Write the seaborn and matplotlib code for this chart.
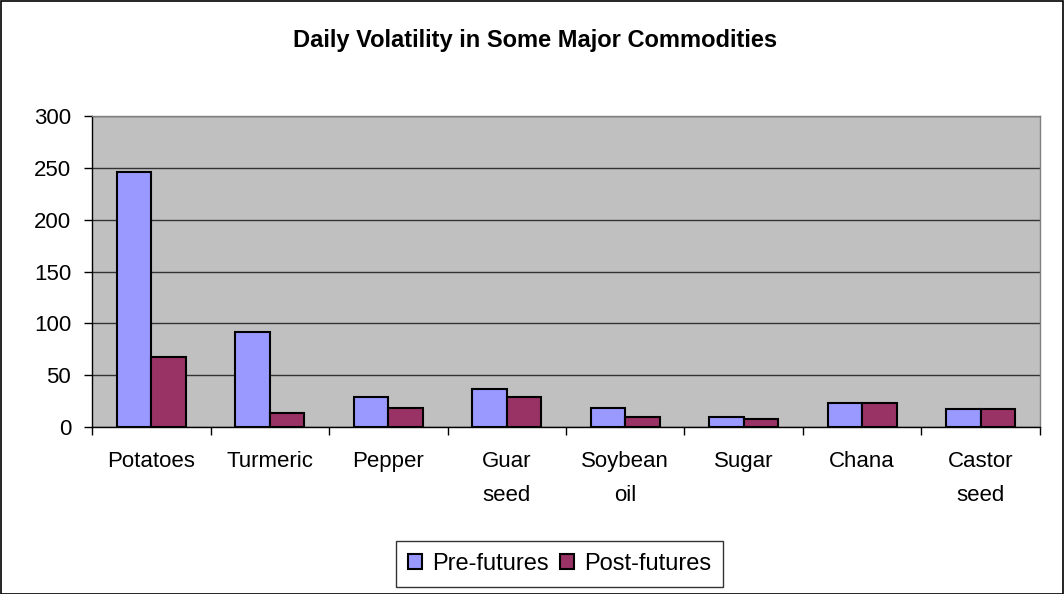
import pandas as pd
import numpy as np
import matplotlib.pyplot as plt
import seaborn as sns
from matplotlib.patches import Rectangle

# Datos
commodities = ["Potatoes", "Turmeric", "Pepper", "Guar\nseed", "Soybean\noil",
               "Sugar", "Chana", "Castor\nseed"]
pre_futures = [246, 92, 29, 37, 18, 10, 23, 17]
post_futures = [68, 14, 18, 29, 10, 8, 23, 17]
series = ["Pre-futures", "Post-futures"]
colores = ["#9999FF", "#993366"]

df = pd.DataFrame({
    "Commodity": commodities * 2,
    "Volatility": pre_futures + post_futures,
    "Period": [series[0]] * len(commodities) + [series[1]] * len(commodities),
})

sns.set_style("white")
plt.rcParams['font.family'] = ['Liberation Sans', 'DejaVu Sans']
plt.rcParams['text.color'] = 'black'
plt.rcParams['xtick.color'] = 'black'
plt.rcParams['ytick.color'] = 'black'

fig = plt.figure(figsize=(10.64, 5.94), dpi=100)
ax = fig.add_axes([0.0865, 0.2811, 0.8909, 0.5236])

sns.barplot(data=df, x="Commodity", y="Volatility", hue="Period",
            palette=colores, width=0.58, edgecolor="black", linewidth=1.5,
            saturation=1, ax=ax, legend=False)

ax.set_facecolor("#C0C0C0")
ax.set_ylim(0, 300)
ax.set_xlim(-0.5, len(commodities) - 0.5)
ax.set_yticks(np.arange(0, 301, 50))
ax.yaxis.grid(True, color="#333333", linewidth=1)
ax.set_axisbelow(True)
ax.set_xlabel("")
ax.set_ylabel("")

for lado in ["top", "right"]:
    ax.spines[lado].set_color("#808080")
    ax.spines[lado].set_linewidth(1)
for lado in ["left", "bottom"]:
    ax.spines[lado].set_color("black")
    ax.spines[lado].set_linewidth(1)

# ticks del eje x entre categorias
ax.set_xticks(np.arange(len(commodities)))
ax.set_xticks(np.arange(-0.5, len(commodities), 1), minor=True)
ax.tick_params(axis="x", which="major", length=0, pad=17, labelsize=16)
ax.tick_params(axis="x", which="minor", length=6, width=1, color="black",
               direction="out", bottom=True)
ax.tick_params(axis="y", length=6, width=1, color="black", direction="out",
               left=True, labelsize=16, pad=9)
for t in ax.get_xticklabels():
    t.set_linespacing(1.85)

fig.text(0.503, 0.932, "Daily Volatility in Some Major Commodities",
         ha="center", va="center", fontsize=17, fontweight="bold")

# Leyenda
handles = [Rectangle((0, 0), 1, 1, facecolor=c, edgecolor="black", linewidth=1.5)
           for c in colores]
leg = fig.legend(handles, series, loc="center", bbox_to_anchor=(0.526, 0.051),
                 ncol=2, fontsize=17, frameon=True, fancybox=False,
                 handlelength=0.6, handleheight=0.6, handletextpad=0.4,
                 columnspacing=0.5, borderpad=0.5)
leg.get_frame().set_edgecolor("black")
leg.get_frame().set_linewidth(1)

# borde del area del grafico
fig.patches.append(Rectangle((0.001, 0.0), 0.998, 0.998, transform=fig.transFigure,
                             fill=False, edgecolor="black", linewidth=1.2))

plt.savefig("out.png", dpi=100)
